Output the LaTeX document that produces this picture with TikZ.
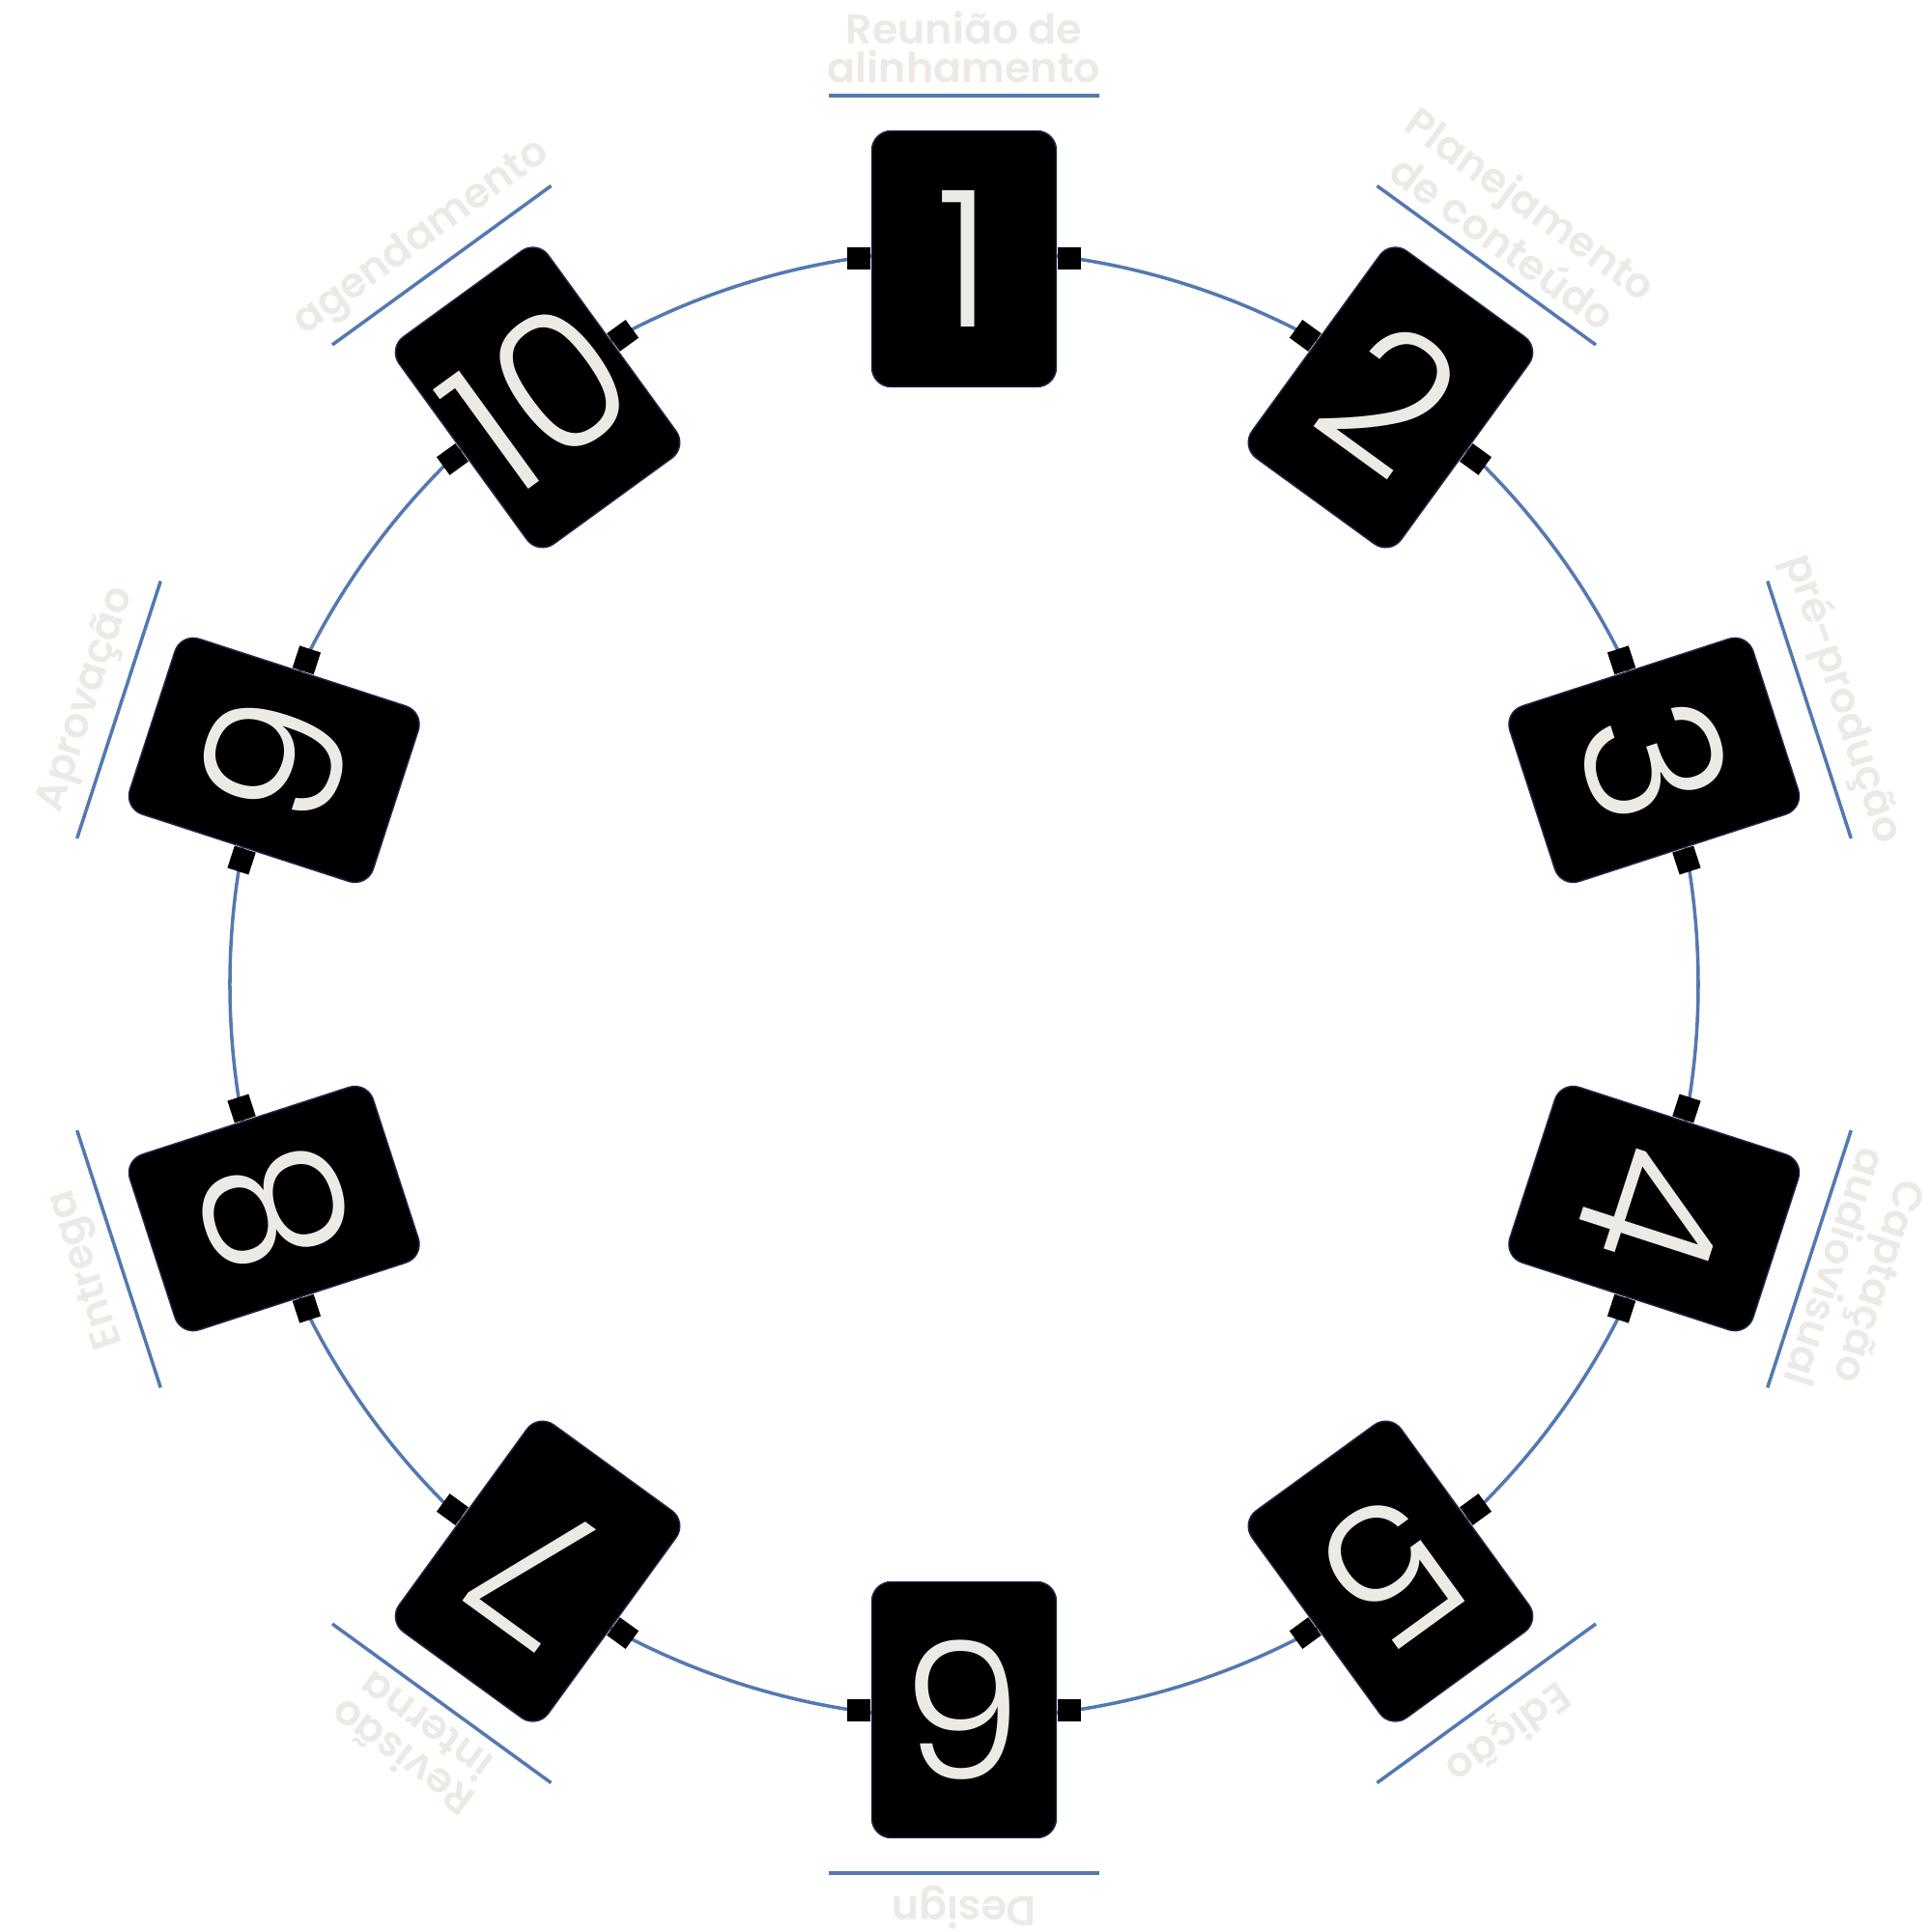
\documentclass[tikz,border=0pt]{standalone}
\usepackage{fontspec}
\setmainfont{Poppins}
\newfontfamily\digitfont{Poppins Light}
\newfontfamily\labelfont{Poppins SemiBold}
\usetikzlibrary{positioning}
\definecolor{ringblue}{RGB}{84,120,178}
\definecolor{cardedge}{RGB}{30,45,80}
\definecolor{chalk}{RGB}{237,234,230}
\tikzset{
  card/.style={draw=cardedge, line width=0.4pt, fill=black, rounded corners=2mm,
    minimum width=1.91cm, minimum height=2.65cm, inner sep=0pt, text=chalk,
    font=\digitfont\fontsize{56}{56}\selectfont},
  pin/.style={fill=black, minimum width=0.24cm, minimum height=0.23cm, inner sep=0pt},
  ring/.style={ringblue, line width=1pt},
  steplabel/.style={text=chalk, align=center, inner sep=0pt, anchor=south,
    font=\labelfont\fontsize{12.2}{11.6}\selectfont},
}

\begin{document}
\begin{tikzpicture}
  \useasboundingbox (-9.98,-9.81) rectangle (10.02,10.19);

  % Ring
  \draw[ring] (0,0) circle (7.6);

  % Cards, pins and labels
  \foreach \n/\txt in {1/{Reunião de\\alinhamento}, 2/{Planejamento\\de conteúdo},
      3/{pré-produção}, 4/{Captação\\audiovisual}, 5/{Edição}, 6/{Design},
      7/{Revisão\\interna}, 8/{Entrega}, 9/{Aprovação}, 10/{agendamento}} {
    \pgfmathsetmacro\ang{90-(\n-1)*36}
    \pgfmathsetmacro\rot{-(\n-1)*36}
    \node[card, rotate=\rot] (c\n) at (\ang:7.51) {\n};
    \node[pin, rotate=\rot, anchor=east] (l\n) at (c\n.west) {};
    \node[pin, rotate=\rot, anchor=west] (r\n) at (c\n.east) {};
    \draw[ring] (\ang:9.2) ++(\ang-90:1.4) -- ++(\ang+90:2.8);
    \node[steplabel, rotate=\rot] (t\n) at (\ang:9.32) {\txt};
  }

\end{tikzpicture}
\end{document}
